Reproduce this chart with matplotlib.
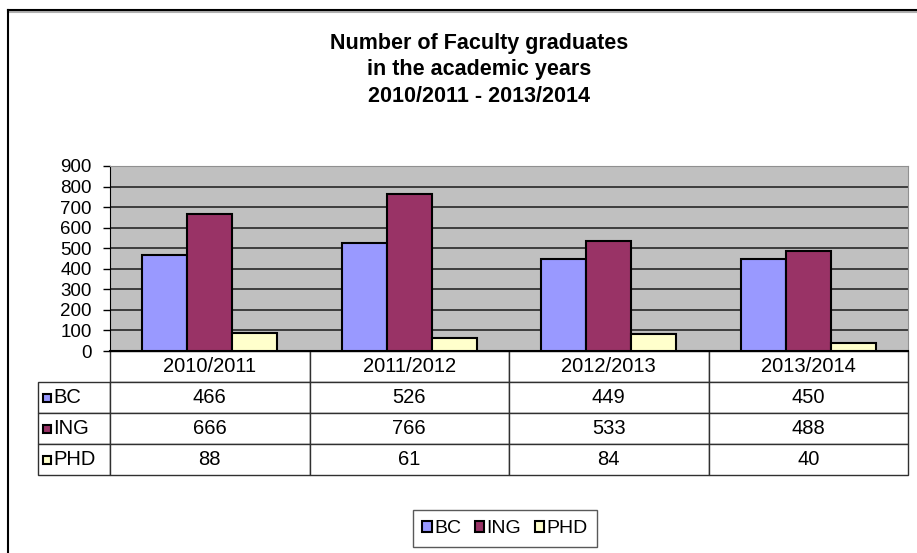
import numpy as np
import matplotlib.pyplot as plt
from matplotlib.patches import Patch
from matplotlib.lines import Line2D
from matplotlib.table import Table

plt.rcParams['font.family'] = ['Liberation Sans', 'DejaVu Sans']

# data
years = ['2010/2011', '2011/2012', '2012/2013', '2013/2014']
series = ['BC', 'ING', 'PHD']
bc = [466, 526, 449, 450]
ing = [666, 766, 533, 488]
phd = [88, 61, 84, 40]
colors = ['#9999FF', '#993366', '#FFFFCC']

W, H = 917, 553
fig = plt.figure(figsize=(W / 100, H / 100), dpi=100)

# plot area in pixels
left, right, top, bottom = 110, 908, 166, 351
ax = fig.add_axes([left / W, 1 - bottom / H, (right - left) / W, (bottom - top) / H])
ax.set_facecolor('#C0C0C0')

x = np.arange(len(years))
bw = 0.225
for i, (vals, c) in enumerate(zip([bc, ing, phd], colors)):
    ax.bar(x + (i - 1) * bw, vals, width=bw, color=c, edgecolor='black',
           linewidth=1.5, zorder=3)

ax.set_xlim(-0.5, len(years) - 0.5)
ax.set_ylim(0, 900)
ax.set_yticks(range(0, 901, 100))
ax.set_xticks([])
ax.yaxis.grid(True, color='#1a1a1a', linewidth=1.1)
ax.set_axisbelow(True)
ax.tick_params(axis='y', length=5, width=1, pad=8, labelsize=13.5, colors='black')
for s in ['top', 'right']:
    ax.spines[s].set_color('#909090')
ax.spines['left'].set_color('black')
ax.spines['bottom'].set_color('black')
ax.spines['bottom'].set_linewidth(1.5)

# data table under the plot
ph = bottom - top
tab_bottom = 475
lab_w = (left - 38) / (right - left)
tab_h = (tab_bottom - bottom) / ph
tbl = Table(ax, bbox=[0, -tab_h, 1, tab_h])
rh = tab_h / 4
for j, yr in enumerate(years):
    tbl.add_cell(0, j, width=0.25, height=rh, text=yr, loc='center')
for i, (name, vals) in enumerate(zip(series, [bc, ing, phd])):
    cell = tbl.add_cell(i + 1, -1, width=lab_w, height=rh, text=name, loc='left')
    cell.PAD = 0.21
    for j, v in enumerate(vals):
        tbl.add_cell(i + 1, j, width=0.25, height=rh, text=str(v), loc='center')
tbl.auto_set_font_size(False)
tbl.set_fontsize(14.5)
for cell in tbl.get_celld().values():
    cell.set_edgecolor('#303030')
    cell.set_linewidth(1)
ax.add_table(tbl)

# colour keys in the row-label cells
for i, c in enumerate(colors):
    ax.plot([(47 - left) / (right - left)], [-rh * (i + 1.5)], marker='s', ms=6,
            mfc=c, mec='black', mew=1.5, transform=ax.transAxes, clip_on=False)

# title
fig.text(479 / W, 1 - 70 / H,
         'Number of Faculty graduates\nin the academic years\n2010/2011 - 2013/2014',
         ha='center', va='center', fontsize=15.5, fontweight='bold', linespacing=1.33)

# legend
handles = [Patch(facecolor=c, edgecolor='black', linewidth=1.5) for c in colors]
fig.legend(handles, series, loc='center', bbox_to_anchor=(505 / W, 1 - 528.5 / H),
           ncol=3, fontsize=14, frameon=True, fancybox=False, edgecolor='#303030',
           handlelength=0.5, handleheight=0.5, handletextpad=0.1, columnspacing=0.7,
           borderpad=0.5)

# outer chart border (top and left only, as cropped)
fig.add_artist(Line2D([8 / W, 1], [1 - 11.5 / H] * 2, color='#b0b0b0', lw=1.5))
fig.add_artist(Line2D([8 / W, 1], [1 - 9.5 / H] * 2, color='black', lw=1.5))
fig.add_artist(Line2D([8 / W] * 2, [0, 1 - 9.5 / H], color='black', lw=1.5))

fig.savefig('out.png', dpi=100)
